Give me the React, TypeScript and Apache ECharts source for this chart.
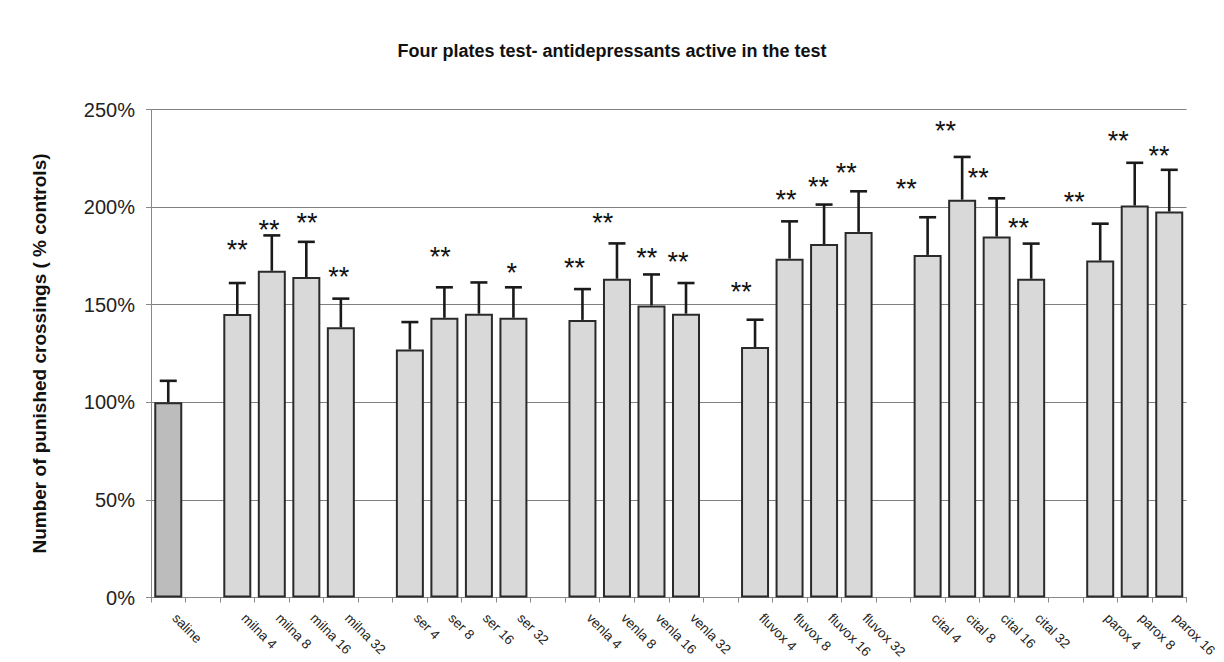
import React, { useEffect, useRef } from 'react';
import * as echarts from 'echarts';

const categories = [
  'saline', '',
  'milna 4', 'milna 8', 'milna 16', 'milna 32', '',
  'ser 4', 'ser 8', 'ser 16', 'ser 32', '',
  'venla 4', 'venla 8', 'venla 16', 'venla 32', '',
  'fluvox 4', 'fluvox 8', 'fluvox 16', 'fluvox 32', '',
  'cital 4', 'cital 8', 'cital 16', 'cital 32', '',
  'parox 4', 'parox 8', 'parox 16',
];
const means = [
  100, null,
  145.2, 167.4, 164.2, 138.4, null,
  127.1, 143.3, 145.4, 143.3, null,
  142.2, 163.3, 149.6, 145.4, null,
  128.3, 173.6, 181.1, 187.3, null,
  175.5, 203.8, 184.9, 163.3, null,
  172.6, 200.8, 197.7,
];
const sems = [
  11, null,
  15.9, 18.1, 18, 14.7, null,
  14, 15.6, 16, 15.6, null,
  15.8, 18.1, 15.9, 15.7, null,
  14, 19.1, 20.2, 20.8, null,
  19.3, 21.9, 19.6, 18, null,
  18.9, 21.9, 21.4,
];
const sigMarks = [
  '', '',
  '**', '**', '**', '**', '',
  '', '**', '', '*', '',
  '**', '**', '**', '**', '',
  '**', '**', '**', '**', '',
  '**', '**', '**', '**', '',
  '**', '**', '**',
];
const sigHeights = [
  null, null,
  181.8, 192, 195.3, 167.6, null,
  null, 177.8, null, 169.6, null,
  172.2, 195.3, 177.7, 175.3, null,
  159.9, 207.3, 214.1, 221.3, null,
  212.7, 242.8, 218.4, 192.7, null,
  206.1, 237.7, 230,
];
// horizontal shift of each significance mark, in category widths
const sigShift = [
  0, 0,
  0, -0.08, 0.02, -0.06, 0,
  0, -0.12, 0, -0.05, 0,
  -0.23, -0.41, -0.14, -0.23, 0,
  -0.4, -0.1, -0.16, -0.36, 0,
  -0.62, -0.48, -0.53, -0.37, 0,
  -0.75, -0.48, -0.3,
];
const yTicks = [0, 50, 100, 150, 200, 250];

const FONT = '"Liberation Sans", Arial, Helvetica, sans-serif';

export default function App() {
  const ref = useRef<HTMLDivElement>(null);
  useEffect(() => {
    if (!ref.current) return;
    const chart = echarts.init(ref.current, undefined, { renderer: 'svg' });
    const barData = means.map((v, i) =>
      v == null
        ? null
        : {
            value: v,
            itemStyle: { color: i === 0 ? '#bcbcbc' : '#d9d9d9' },
          }
    );
    const errData: any[] = [];
    means.forEach((m, i) => {
      if (m != null && sems[i] != null) errData.push([i, m, sems[i]]);
    });
    const sigData: any[] = [];
    sigMarks.forEach((s, i) => {
      if (s && sigHeights[i] != null) sigData.push([i, sigHeights[i], sigShift[i], s]);
    });
    chart.setOption({
      animation: false,
      backgroundColor: '#ffffff',
      title: {
        text: 'Four plates test- antidepressants active in the test',
        left: 'center',
        top: 37,
        textStyle: { fontFamily: FONT, fontWeight: 'bold', fontSize: 18, color: '#111' },
      },
      grid: {
        left: 151,
        right: 37.5,
        top: 109.5,
        bottom: 64.5,
        containLabel: false,
        outerBoundsMode: 'none',
      },
      xAxis: {
        type: 'category',
        data: categories,
        boundaryGap: true,
        axisLine: { show: true, lineStyle: { color: '#888', width: 1 } },
        axisTick: { show: true, interval: 0, length: 5, lineStyle: { color: '#888' } },
        axisLabel: {
          interval: 0,
          rotate: -45,
          margin: 12,
          padding: [0, 0, 0, 9],
          fontFamily: FONT,
          fontSize: 13.5,
          color: '#222',
        },
        splitLine: { show: false },
      },
      yAxis: {
        type: 'value',
        min: yTicks[0],
        max: yTicks[yTicks.length - 1],
        interval: 50,
        name: 'Number of punished crossings ( % controls)',
        nameLocation: 'middle',
        nameRotate: 90,
        nameGap: 102,
        nameTextStyle: { fontFamily: FONT, fontWeight: 'bold', fontSize: 19, color: '#111' },
        axisLine: { show: true, lineStyle: { color: '#888', width: 1 } },
        axisTick: { show: true, length: 5, lineStyle: { color: '#888' } },
        axisLabel: {
          formatter: '{value}%',
          margin: 16,
          fontFamily: FONT,
          fontSize: 20,
          color: '#222',
        },
        splitLine: { show: true, lineStyle: { color: '#808080', width: 1 } },
      },
      series: [
        {
          type: 'bar',
          data: barData,
          barWidth: 28,
          itemStyle: { borderColor: '#2a2a2a', borderWidth: 2 },
          z: 2,
        },
        {
          type: 'custom',
          data: errData,
          z: 3,
          renderItem: (params: any, api: any) => {
            const x = api.value(0);
            const m = api.value(1);
            const e = api.value(2);
            const p0 = api.coord([x, m]);
            const p1 = api.coord([x, m + e]);
            const cap = 8.5;
            const st = { stroke: '#1a1a1a', lineWidth: 2.6 };
            return {
              type: 'group',
              children: [
                { type: 'line', shape: { x1: p0[0], y1: p0[1], x2: p1[0], y2: p1[1] }, style: st },
                { type: 'line', shape: { x1: p1[0] - cap, y1: p1[1], x2: p1[0] + cap, y2: p1[1] }, style: st },
              ],
            };
          },
        },
        {
          type: 'custom',
          data: sigData,
          z: 4,
          renderItem: (params: any, api: any) => {
            const x = api.value(0);
            const y = api.value(1);
            const sh = api.value(2);
            const txt = sigData[params.dataIndex][3];
            const p = api.coord([x, y]);
            const bw = api.size([1, 0])[0];
            return {
              type: 'text',
              x: p[0] + sh * bw,
              y: p[1] + 7,
              style: {
                text: txt,
                fontFamily: FONT,
                fontWeight: 'normal',
                fontSize: 27,
                fill: '#111',
                textAlign: 'center',
                textVerticalAlign: 'middle',
              },
            };
          },
        },
      ],
    });
    return () => chart.dispose();
  }, []);
  return (
    <div
      ref={ref}
      style={{ position: 'fixed', left: 0, top: 0, width: 1224, height: 662, background: '#fff' }}
    />
  );
}
